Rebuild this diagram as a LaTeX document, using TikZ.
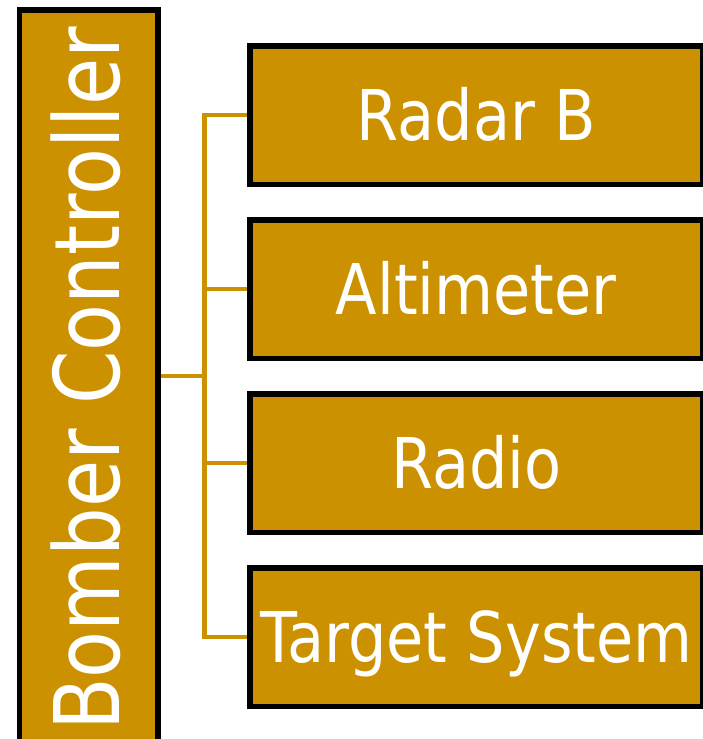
\documentclass[tikz,border=0pt]{standalone}
\usepackage{fontspec}
\newfontfamily\labelfont[FakeStretch=0.865]{DejaVu Sans}
\newfontfamily\ctrlfont[FakeStretch=0.848]{DejaVu Sans}
\definecolor{gold}{RGB}{204,145,0}
\tikzset{
  unitbox/.style={draw=black, line width=5.4pt, fill=gold, rectangle,
    inner sep=0pt, minimum width=453.2pt, minimum height=138.4pt,
    text=white, font=\labelfont\fontsize{70}{84}\selectfont,
    text height=51pt, text depth=0pt},
  ctrlbox/.style={draw=black, line width=5.4pt, fill=gold, rectangle,
    inner sep=0pt, minimum width=138.3pt, minimum height=760pt},
  ctrllabel/.style={rotate=90, inner sep=0pt, text=white,
    font=\ctrlfont\fontsize{90.5}{108}\selectfont,
    text height=66pt, text depth=0pt},
  link/.style={draw=gold, line width=4.4pt}
}
\begin{document}
\begin{tikzpicture}[x=1pt,y=-1pt]
  \useasboundingbox (0,0) rectangle (702,739);
  % controller column
  \node[ctrlbox] (ctrl) at (88.85,389.8) {};
  \node[ctrllabel] (ctrltext) at (86.3,379) {Bomber Controller};
  % subsystem boxes
  \node[unitbox] (radar)  at (476.4,115) {Radar B};
  \node[unitbox] (alt)    at (476.4,289) {Altimeter};
  \node[unitbox] (radio)  at (476.4,463) {Radio};
  \node[unitbox] (target) at (476.4,637) {Target System};
  % tree connectors
  \coordinate (hub) at (204.5,376);
  \draw[link] (ctrl.east |- hub) -- (hub);
  \draw[link] (radar.west) -| (hub);
  \draw[link] (alt.west) -| (hub);
  \draw[link] (radio.west) -| (hub);
  \draw[link] (target.west) -| (hub);
\end{tikzpicture}
\end{document}
